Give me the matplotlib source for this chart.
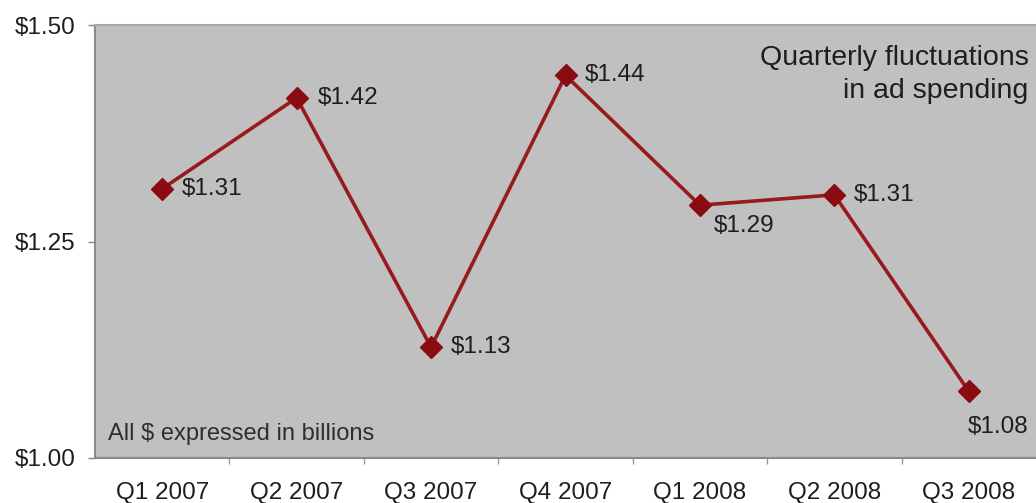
import numpy as np
import matplotlib.pyplot as plt

quarters = ["Q1 2007", "Q2 2007", "Q3 2007", "Q4 2007", "Q1 2008", "Q2 2008", "Q3 2008"]
spend = [1.311, 1.416, 1.128, 1.442, 1.292, 1.304, 1.077]
labels = ["$1.31", "$1.42", "$1.13", "$1.44", "$1.29", "$1.31", "$1.08"]
y_ticks = [1.00, 1.25, 1.50]
y_tick_labels = ["$1.00", "$1.25", "$1.50"]

plt.rcParams["font.family"] = ["Liberation Sans", "DejaVu Sans"]

fig = plt.figure(figsize=(10.36, 5.03), dpi=100)
ax = fig.add_axes([0.0917, 0.0895, 0.9083, 0.8605])
ax.set_facecolor("#c0c0c0")

x = np.arange(len(quarters))
ax.plot(x, spend, color="#981a1e", lw=2.6, marker="D", markersize=11,
        markerfacecolor="#8a0c12", markeredgecolor="#8a0c12", zorder=3)

# label offsets in points (dx, dy)
offsets = [(14, 0), (15, 0), (14, 0), (14, 0), (10, -15), (14, 0), (-1, -26)]
for xi, yi, lab, (dx, dy) in zip(x, spend, labels, offsets):
    ax.annotate(lab, (xi, yi), xytext=(dx, dy), textcoords="offset points",
                ha="left", va="center", fontsize=17.5, color="#1e1e1e")

ax.set_xlim(-0.5, 6.5)
ax.set_ylim(1.0, 1.5)
ax.set_yticks(y_ticks)
ax.set_yticklabels(y_tick_labels)
ax.set_xticks(x)
ax.set_xticklabels(quarters)
ax.set_xticks(np.arange(0.5, 6.5, 1.0), minor=True)

ax.tick_params(axis="y", length=5, width=1, color="#888888", pad=9,
               labelsize=17.5, labelcolor="#1e1e1e")
ax.tick_params(axis="x", which="major", length=0, pad=17,
               labelsize=17.5, labelcolor="#1e1e1e")
ax.tick_params(axis="x", which="minor", length=4, width=1, color="#999999",
               direction="out")

for side in ["left", "bottom"]:
    ax.spines[side].set_color("#8a8a8a")
    ax.spines[side].set_linewidth(1.5)
ax.spines["top"].set_color("#a8a8a8")
ax.spines["top"].set_linewidth(1.5)
ax.spines["right"].set_visible(False)

ax.text(0.992, 0.955, "Quarterly fluctuations\nin ad spending", transform=ax.transAxes,
        ha="right", va="top", fontsize=20.5, color="#1e1e1e", linespacing=1.35)
ax.text(0.014, 0.03, "All $ expressed in billions", transform=ax.transAxes,
        ha="left", va="bottom", fontsize=17, color="#2e2e2e")

fig.savefig("out.png", dpi=100)
